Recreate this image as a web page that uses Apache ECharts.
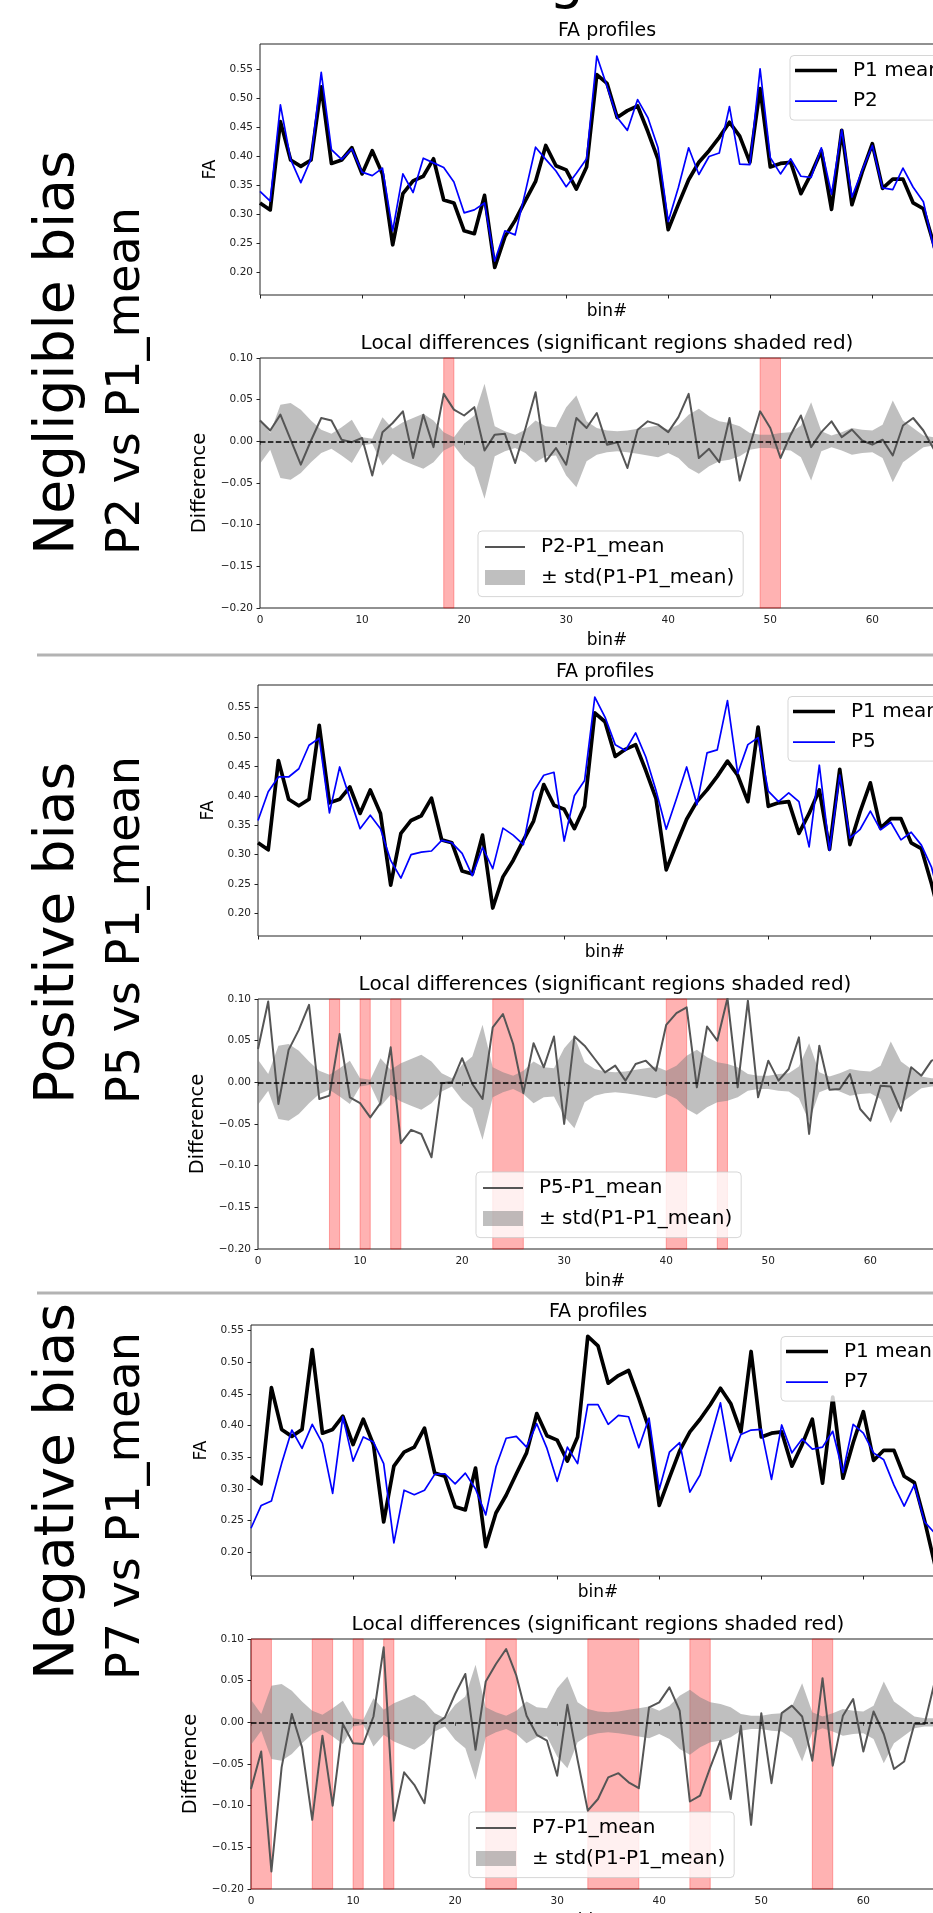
<!DOCTYPE html>
<html>
<head>
<meta charset="utf-8">
<script src="https://cdn.jsdelivr.net/npm/echarts@6/dist/echarts.min.js"></script>
<style>
  html, body { margin: 0; padding: 0; background: #fff; overflow: hidden; }
  #chart { width: 960px; height: 1913px; }
</style>
</head>
<body>
<div id="chart"></div>
<script>
// bin index 0..68
const bins = Array.from({ length: 69 }, (_, i) => i)

const p1Mean = [0.320, 0.308, 0.460, 0.394, 0.383, 0.394, 0.520, 0.388, 0.394, 0.415, 0.370, 0.410, 0.370, 0.248, 0.336, 0.358, 0.366, 0.396, 0.325, 0.320,
  0.272, 0.267, 0.333, 0.209, 0.262, 0.290, 0.324, 0.357, 0.419, 0.384, 0.377, 0.344, 0.382, 0.541, 0.526, 0.467, 0.479, 0.487, 0.443, 0.395,
  0.274, 0.318, 0.360, 0.390, 0.410, 0.433, 0.459, 0.435, 0.390, 0.517, 0.382, 0.388, 0.390, 0.336, 0.370, 0.410, 0.309, 0.445, 0.317, 0.373,
  0.422, 0.345, 0.361, 0.361, 0.320, 0.310, 0.250, 0.181, 0.200]

const p2 = [0.340, 0.323, 0.489, 0.395, 0.355, 0.396, 0.545, 0.412, 0.395, 0.413, 0.373, 0.367, 0.380, 0.272, 0.370, 0.338, 0.397, 0.389, 0.381, 0.356,
  0.303, 0.308, 0.320, 0.220, 0.272, 0.265, 0.339, 0.416, 0.395, 0.375, 0.348, 0.371, 0.396, 0.573, 0.521, 0.467, 0.445, 0.498, 0.467, 0.415,
  0.288, 0.347, 0.415, 0.369, 0.400, 0.406, 0.486, 0.387, 0.386, 0.551, 0.398, 0.370, 0.396, 0.366, 0.364, 0.415, 0.335, 0.446, 0.330, 0.376,
  0.419, 0.346, 0.343, 0.380, 0.347, 0.322, 0.243, 0.190, 0.210]

const p5 = [0.358, 0.407, 0.432, 0.432, 0.446, 0.486, 0.498, 0.371, 0.449, 0.396, 0.344, 0.367, 0.344, 0.290, 0.260, 0.300, 0.304, 0.306, 0.324, 0.320,
  0.302, 0.264, 0.312, 0.276, 0.345, 0.333, 0.317, 0.407, 0.435, 0.440, 0.323, 0.400, 0.426, 0.568, 0.534, 0.487, 0.477, 0.507, 0.466, 0.409,
  0.343, 0.395, 0.449, 0.385, 0.473, 0.478, 0.562, 0.438, 0.487, 0.499, 0.408, 0.390, 0.405, 0.390, 0.313, 0.452, 0.307, 0.435, 0.328, 0.343,
  0.374, 0.342, 0.355, 0.325, 0.338, 0.316, 0.278, 0.210, 0.220]

const p7 = [0.238, 0.274, 0.281, 0.340, 0.393, 0.364, 0.402, 0.372, 0.293, 0.414, 0.344, 0.382, 0.374, 0.340, 0.215, 0.298, 0.291, 0.298, 0.323, 0.324,
  0.308, 0.325, 0.300, 0.259, 0.335, 0.380, 0.383, 0.366, 0.403, 0.364, 0.312, 0.366, 0.340, 0.433, 0.433, 0.402, 0.416, 0.414, 0.365, 0.412,
  0.299, 0.358, 0.373, 0.295, 0.322, 0.379, 0.436, 0.344, 0.386, 0.393, 0.394, 0.315, 0.401, 0.357, 0.379, 0.363, 0.366, 0.391, 0.326, 0.402,
  0.388, 0.357, 0.346, 0.306, 0.273, 0.307, 0.248, 0.230, 0.230]

const d2 = [0.025, 0.013, 0.032, 0.002, -0.028, 0.001, 0.028, 0.025, 0.002, -0.001, 0.004, -0.041, 0.011, 0.022, 0.036, -0.020, 0.032, -0.007, 0.057, 0.038,
  0.031, 0.041, -0.011, 0.008, 0.009, -0.026, 0.015, 0.059, -0.024, -0.008, -0.028, 0.028, 0.016, 0.034, -0.004, -0.001, -0.032, 0.014, 0.024, 0.020,
  0.011, 0.029, 0.057, -0.020, -0.009, -0.025, 0.028, -0.047, -0.005, 0.036, 0.016, -0.020, 0.008, 0.031, -0.007, 0.011, 0.024, 0.005, 0.014, 0.001,
  -0.004, 0.002, -0.017, 0.019, 0.028, 0.013, -0.009, 0.010, 0.008]

const d5 = [0.040, 0.097, -0.026, 0.039, 0.063, 0.093, -0.020, -0.016, 0.058, -0.018, -0.025, -0.042, -0.025, 0.042, -0.073, -0.057, -0.062, -0.090, -0.001, 0.000,
  0.029, -0.002, -0.020, 0.066, 0.082, 0.046, -0.013, 0.047, 0.018, 0.055, -0.050, 0.055, 0.044, 0.028, 0.012, 0.020, 0.002, 0.022, 0.026, 0.014,
  0.069, 0.083, 0.090, -0.006, 0.067, 0.050, 0.101, -0.006, 0.098, -0.018, 0.026, 0.002, 0.016, 0.054, -0.062, 0.044, -0.009, -0.008, 0.010, -0.032,
  -0.046, -0.004, -0.005, -0.034, 0.018, 0.008, 0.026, 0.030, 0.020]

const d7 = [-0.080, -0.035, -0.179, -0.054, 0.010, -0.030, -0.117, -0.016, -0.100, -0.002, -0.025, -0.026, 0.007, 0.090, -0.118, -0.060, -0.075, -0.097, -0.003, 0.006,
  0.034, 0.058, -0.033, 0.049, 0.070, 0.088, 0.056, 0.008, -0.015, -0.022, -0.064, 0.021, -0.045, -0.106, -0.092, -0.066, -0.061, -0.072, -0.079, 0.018,
  0.024, 0.042, 0.014, -0.095, -0.088, -0.054, -0.022, -0.092, -0.004, -0.123, 0.011, -0.073, 0.011, 0.020, 0.007, -0.046, 0.053, -0.052, 0.008, 0.028,
  -0.035, 0.013, -0.014, -0.056, -0.047, -0.002, -0.002, 0.049, 0.030]

// std(P1 - P1_mean), drawn as a +/- band round zero
const stdP1 = [0.027, 0.010, 0.044, 0.046, 0.038, 0.025, 0.014, 0.009, 0.017, 0.026, 0.005, 0.003, 0.029, 0.015, 0.023, 0.028, 0.033, 0.025, 0.011, 0.005,
  0.021, 0.031, 0.069, 0.018, 0.012, 0.008, 0.014, 0.025, 0.018, 0.017, 0.041, 0.055, 0.024, 0.016, 0.013, 0.012, 0.013, 0.015, 0.017, 0.019,
  0.014, 0.020, 0.032, 0.039, 0.030, 0.024, 0.022, 0.018, 0.010, 0.008, 0.008, 0.010, 0.011, 0.019, 0.047, 0.012, 0.007, 0.011, 0.016, 0.014,
  0.013, 0.020, 0.049, 0.025, 0.016, 0.007, 0.005, 0.005, 0.006]

const spansP2 = [[18, 19], [49, 51]]
const spansP5 = [[7, 8], [10, 11], [13, 14], [23, 26], [40, 42], [45, 46]]
const spansP7 = [[0, 2], [6, 8], [10, 11], [13, 14], [23, 26], [33, 38], [43, 45], [55, 57]]

const faTicks = [0.20, 0.25, 0.30, 0.35, 0.40, 0.45, 0.50, 0.55]

const panels = [
  { name: 'P2', fa: p2, diff: d2, spans: spansP2, label1: 'Negligible bias', label2: 'P2 vs P1_mean' },
  { name: 'P5', fa: p5, diff: d5, spans: spansP5, label1: 'Positive bias', label2: 'P5 vs P1_mean' },
  { name: 'P7', fa: p7, diff: d7, spans: spansP7, label1: 'Negative bias', label2: 'P7 vs P1_mean' },
]

// pixel layout of each block
const layout = [
  { left: 260, faTop: 44, diffTop: 358, faMin: 0.1615, faMax: 0.5937, labelY: 555 },
  { left: 258, faTop: 685, diffTop: 999, faMin: 0.1614, faMax: 0.5885, labelY: 1104 },
  { left: 251, faTop: 1325, diffTop: 1639, faMin: 0.1626, faMax: 0.5588, labelY: 1680 },
]
const plotW = 694
const faH = 251
const diffH = 250
const FONT = 'DejaVu Sans'
const INK = '#222'
const BAND = 'rgba(128,128,128,0.5)'

const pairs = (arr) => bins.map((b, i) => [b, arr[i]])

const grid = []
const xAxis = []
const yAxis = []
const series = []
const legend = []
const graphic = []

function textEl(text, x, y, size, rot) {
  return {
    type: 'text', x, y, rotation: rot || 0, silent: true,
    style: {
      text, fill: '#000', fontSize: size, fontFamily: FONT,
      align: rot ? 'left' : 'center', verticalAlign: 'middle',
      textAlign: rot ? 'left' : 'center', textVerticalAlign: 'middle',
    },
  }
}

panels.forEach((p, i) => {
  const L = layout[i]
  const gFa = 2 * i
  const gDiff = 2 * i + 1
  const gridBase = { left: L.left, width: plotW, show: true, borderColor: INK, borderWidth: 1, outerBoundsMode: 'none', containLabel: false }

  grid.push(Object.assign({}, gridBase, { top: L.faTop, height: faH }))
  grid.push(Object.assign({}, gridBase, { top: L.diffTop, height: diffH }))

  const xBase = {
    type: 'value', min: 0, max: 68, interval: 10,
    axisLine: { show: false },
    axisTick: { show: true, length: 3.5, lineStyle: { color: INK } },
    splitLine: { show: false },
    name: 'bin#', nameLocation: 'middle',
    nameTextStyle: { fontSize: 17, fontFamily: FONT, color: '#000' },
  }
  xAxis.push(Object.assign({}, xBase, { gridIndex: gFa, nameGap: 8, axisLabel: { show: false } }))
  xAxis.push(Object.assign({}, xBase, {
    gridIndex: gDiff, nameGap: 24,
    axisLabel: { show: true, fontSize: 10.5, fontFamily: FONT, color: INK, margin: 7, showMaxLabel: false },
  }))

  yAxis.push({
    type: 'value', gridIndex: gFa, min: L.faMin, max: L.faMax,
    axisLine: { show: false },
    axisTick: { show: true, length: 3.5, lineStyle: { color: INK }, customValues: faTicks },
    axisLabel: { fontSize: 10.5, fontFamily: FONT, color: INK, margin: 7, customValues: faTicks, formatter: (v) => v.toFixed(2) },
    splitLine: { show: false },
    name: 'FA', nameLocation: 'middle', nameGap: 36,
    nameTextStyle: { fontSize: 17, fontFamily: FONT, color: '#000' },
  })
  yAxis.push({
    type: 'value', gridIndex: gDiff, min: -0.2, max: 0.1, interval: 0.05,
    axisLine: { show: false },
    axisTick: { show: true, length: 3.5, lineStyle: { color: INK } },
    axisLabel: {
      fontSize: 10.5, fontFamily: FONT, color: INK, margin: 7,
      formatter: (v) => (Math.abs(v) < 1e-9 ? '0.00' : (v < 0 ? '\u2212' : '') + Math.abs(v).toFixed(2)),
    },
    splitLine: { show: false },
    name: 'Difference', nameLocation: 'middle', nameGap: 40,
    nameTextStyle: { fontSize: 19.5, fontFamily: FONT, color: '#000' },
  })

  // FA profiles
  series.push({
    type: 'line', name: 'P1 mean', xAxisIndex: gFa, yAxisIndex: gFa, data: pairs(p1Mean),
    symbol: 'none', z: 2, itemStyle: { color: '#000' },
    lineStyle: { color: '#000', width: 3.7, join: 'round' },
  })
  series.push({
    type: 'line', name: p.name, xAxisIndex: gFa, yAxisIndex: gFa, data: pairs(p.fa),
    symbol: 'none', z: 3, itemStyle: { color: '#0000ff' },
    lineStyle: { color: '#0000ff', width: 1.7, join: 'round' },
  })

  // std band: upper half and lower half, each filled to zero
  series.push({
    type: 'line', name: '\u00b1 std(P1-P1_mean)', xAxisIndex: gDiff, yAxisIndex: gDiff,
    data: pairs(stdP1), symbol: 'none', z: 1,
    lineStyle: { width: 0, opacity: 0 }, itemStyle: { color: BAND },
    areaStyle: { color: BAND, opacity: 1, origin: 0 },
    markArea: {
      silent: true,
      itemStyle: { color: 'rgba(255,0,0,0.3)', borderColor: 'rgba(255,0,0,0.3)', borderWidth: 1 },
      data: p.spans.map((s) => [{ xAxis: s[0] }, { xAxis: s[1] }]),
    },
  })
  series.push({
    type: 'line', name: 'band-lo-' + i, xAxisIndex: gDiff, yAxisIndex: gDiff,
    data: pairs(stdP1.map((s) => -s)), symbol: 'none', z: 1,
    lineStyle: { width: 0, opacity: 0 }, itemStyle: { color: BAND },
    areaStyle: { color: BAND, opacity: 1, origin: 0 },
  })
  series.push({
    type: 'line', name: p.name + '-P1_mean', xAxisIndex: gDiff, yAxisIndex: gDiff, data: pairs(p.diff),
    symbol: 'none', z: 4, itemStyle: { color: '#555' },
    lineStyle: { color: '#555', width: 2, join: 'round' },
    markLine: {
      silent: true, symbol: ['none', 'none'], label: { show: false },
      lineStyle: { color: '#000', type: [5.5, 2.4], width: 1.6 },
      data: [{ yAxis: 0 }],
    },
  })

  const legendBase = {
    orient: 'vertical', itemGap: 10.6, selectedMode: false,
    backgroundColor: 'rgba(255,255,255,0.8)', borderColor: 'rgba(204,204,204,0.8)', borderWidth: 1, borderRadius: 4,
    textStyle: { fontSize: 20, fontFamily: FONT, color: '#000', padding: [0, 0, 0, 11] },
  }
  legend.push(Object.assign({}, legendBase, {
    left: L.left + 530, top: L.faTop + 11.5, padding: [5, 8, 9, 5],
    itemWidth: 42, itemHeight: 14,
    data: [
      { name: 'P1 mean', icon: 'path://M0,0H84V7.4H0Z' },
      { name: p.name, icon: 'path://M0,0H84V3.4H0Z' },
    ],
  }))
  legend.push(Object.assign({}, legendBase, {
    left: L.left + 218, top: L.diffTop + 173, padding: [6, 9, 9, 7],
    itemWidth: 40, itemHeight: 15,
    data: [
      { name: p.name + '-P1_mean', icon: 'path://M0,0H80V4H0Z' },
      { name: '\u00b1 std(P1-P1_mean)', icon: 'rect', itemStyle: { color: BAND, borderWidth: 0 } },
    ],
  }))

  graphic.push(textEl('FA profiles', L.left + 347, L.faTop - 13, 19))
  graphic.push(textEl('Local differences (significant regions shaded red)', L.left + 347, L.diffTop - 14.5, 20))
  graphic.push(textEl(p.label1, 59, L.labelY, 55, Math.PI / 2))
  graphic.push(textEl(p.label2, 127, L.labelY, 46, Math.PI / 2))
})

// block separators
;[655, 1293].forEach((y) => {
  graphic.push({
    type: 'line', silent: true,
    shape: { x1: 37, y1: y, x2: 960, y2: y },
    style: { stroke: '#b3b3b3', lineWidth: 3 },
  })
})

// tail of the figure title, cut by the top edge
graphic.push({
  type: 'text', x: 549, y: 10, silent: true,
  style: { text: 'g', fill: '#000', fontSize: 55, fontFamily: FONT, align: 'left', verticalAlign: 'bottom', textAlign: 'left', textVerticalAlign: 'bottom' },
})

const chart = echarts.init(document.getElementById('chart'), null, { renderer: 'canvas' })
chart.setOption({
  animation: false,
  backgroundColor: '#fff',
  textStyle: { fontFamily: FONT },
  grid, xAxis, yAxis, series, legend, graphic,
})
</script>
</body>
</html>
